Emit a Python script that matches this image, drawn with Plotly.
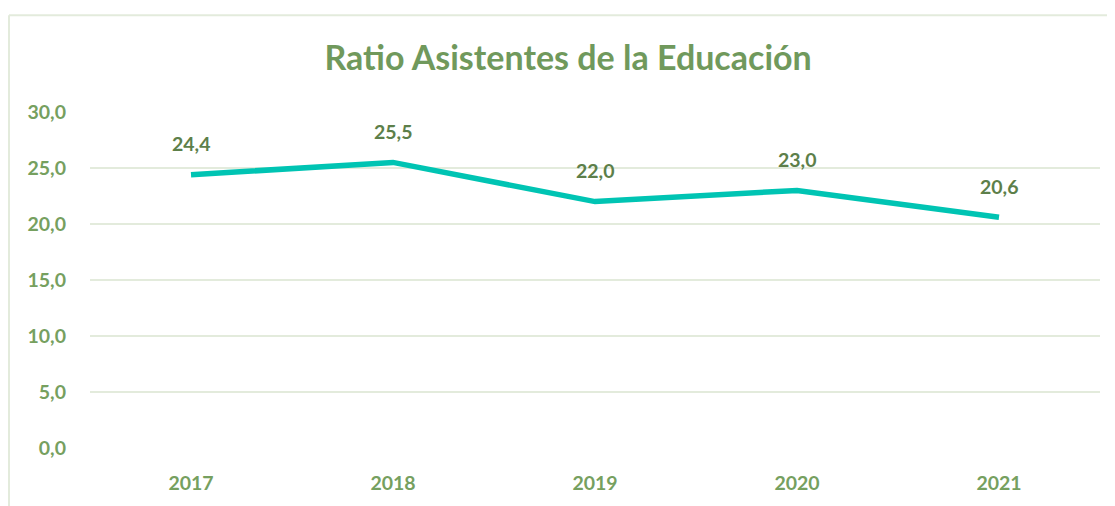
import plotly.graph_objects as go

years = ["2017", "2018", "2019", "2020", "2021"]
ratio = [24.4, 25.5, 22.0, 23.0, 20.6]
y_ticks = [0, 5, 10, 15, 20, 25, 30]
title_text = "Ratio Asistentes de la Educación"

FONT = "Lato"
AXIS_COLOR = "#76a05f"
LABEL_COLOR = "#5d7f4a"
TITLE_COLOR = "#70995c"
LINE_COLOR = "#00c4b3"
GRID_COLOR = "#e3ebdc"

W, H = 1107, 498
ML, MR, MT, MB = 82, 15, 104, 54
PW, PH = W - ML - MR, H - MT - MB

fig = go.Figure()
fig.add_trace(go.Scatter(
    x=years, y=ratio, mode="lines",
    line=dict(color=LINE_COLOR, width=5.5),
    hoverinfo="skip", showlegend=False,
))

for i, v in enumerate(ratio):
    fig.add_annotation(
        x=i, y=v, text=f"{v:.1f}".replace(".", ","),
        showarrow=False, yshift=31,
        font=dict(family=FONT, size=19.5, color=LABEL_COLOR, weight="bold"),
    )

# chart border (top and left edges visible)
bx = (0 - ML) / PW + 0.001
by = 1 + (MT - 6) / PH
fig.add_shape(type="line", xref="paper", yref="paper",
              x0=bx, x1=1.05, y0=by, y1=by,
              line=dict(color=GRID_COLOR, width=2))
fig.add_shape(type="line", xref="paper", yref="paper",
              x0=bx, x1=bx, y0=by, y1=-0.3,
              line=dict(color=GRID_COLOR, width=2))

fig.update_layout(
    width=W, height=H,
    margin=dict(l=ML, r=MR, t=MT, b=MB),
    paper_bgcolor="white", plot_bgcolor="white",
    separators=",.",
    title=dict(text=title_text, x=0.506, xanchor="center", y=0.9, yanchor="middle",
               font=dict(family=FONT, size=34, color=TITLE_COLOR, weight="bold")),
    xaxis=dict(
        type="category", range=[-0.5, 4.5], showgrid=False, zeroline=False,
        showline=False, ticks="", ticklabelstandoff=21,
        tickfont=dict(family=FONT, size=19.5, color=AXIS_COLOR, weight="bold"),
    ),
    yaxis=dict(
        range=[0, 30], tickvals=y_ticks, tickformat=".1f",
        showgrid=True, gridcolor=GRID_COLOR, gridwidth=2,
        zeroline=False, showline=False, ticks="", ticklabelstandoff=23,
        tickfont=dict(family=FONT, size=19.5, color=AXIS_COLOR, weight="bold"),
    ),
)

fig.write_html("out.html")
